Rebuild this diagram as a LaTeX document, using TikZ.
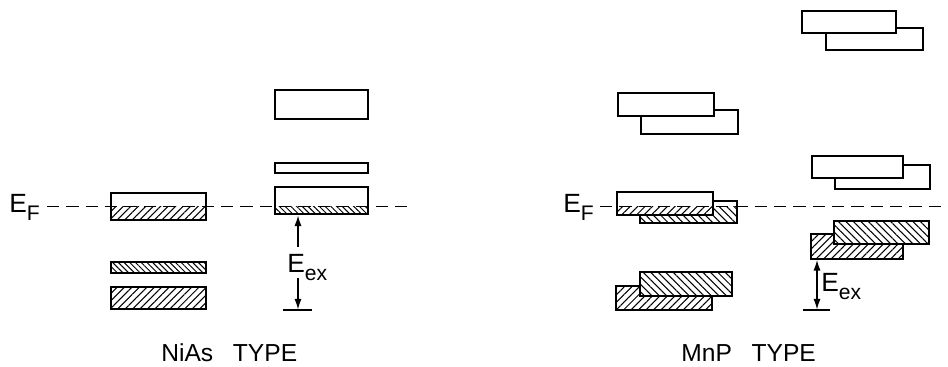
\documentclass[tikz,border=0pt]{standalone}
\usepackage{fontspec}
\setmainfont{Liberation Sans}
\usetikzlibrary{patterns.meta,arrows.meta}
\newcommand{\lvlsub}[1]{\raisebox{-4.5pt}{\fontsize{12pt}{12pt}\selectfont #1}}
\tikzset{
  band/.style={draw,line width=1pt,fill=white},
  hatchup/.style={pattern={Lines[angle=45,distance=3pt,line width=0.6pt]}},
  hatchdown/.style={pattern={Lines[angle=-45,distance=3pt,line width=0.6pt]}},
  hatchfine/.style={pattern={Lines[angle=-45,distance=2.3pt,line width=0.55pt]}},
  efline/.style={line width=0.7pt,dash pattern=on 7pt off 4pt},
  levelname/.style={font=\fontsize{15pt}{16pt}\selectfont,inner sep=0pt,anchor=base west},
  typename/.style={font=\fontsize{14pt}{16pt}\selectfont,inner sep=0pt,anchor=base west},
  gap/.style={line width=0.7pt,-{Latex[length=6pt,width=4pt]}},
}
\begin{document}
\begin{tikzpicture}[x=0.02cm,y=-0.02cm]
  \useasboundingbox (0,0) rectangle (948,367);
  % NiAs type
  \draw[band] (275,90) rectangle (368,119);
  \draw[band] (275,163) rectangle (368,173);
  \draw[band] (275,187) rectangle (368,214);
  \fill[hatchfine] (275,206.5) rectangle (368,214);
  \draw[band] (111,193) rectangle (206,220);
  \fill[hatchup] (111,206.5) rectangle (206,220);
  \draw[band] (111,262) rectangle (206,273);
  \fill[hatchfine] (111,262) rectangle (206,273);
  \draw[band] (111,287) rectangle (206,309);
  \fill[hatchup] (111,287) rectangle (206,309);
  \node[levelname] (efl) at (9,213) {E\lvlsub{F}};
  \coordinate (efl-a) at (47,206.5);
  \coordinate (efl-b) at (410,206.5);
  \draw[efline] (efl-a) -- (efl-b);
  \node[levelname] (eexl) at (287,273) {E\lvlsub{ex}};
  \coordinate (eexl-top) at (298,215.5);
  \coordinate (eexl-up) at (298,247);
  \coordinate (eexl-down) at (298,278);
  \coordinate (eexl-bot) at (298,309.5);
  \draw[gap] (eexl-up) -- (eexl-top);
  \draw[gap] (eexl-down) -- (eexl-bot);
  \coordinate (basel-a) at (283,310);
  \coordinate (basel-b) at (312,310);
  \draw[line width=1pt] (basel-a) -- (basel-b);
  \node[typename] (niastype) at (161,362) {NiAs\hspace{0.8em}TYPE};
  % MnP type
  \draw[band] (826,28) rectangle (923,50);
  \draw[band] (802,11) rectangle (896,33);
  \draw[band] (641,110) rectangle (738,134);
  \draw[band] (618,93) rectangle (714,116);
  \draw[band] (835,165) rectangle (930,189);
  \draw[band] (812,156) rectangle (903,178);
  \draw[band] (640,201) rectangle (737,223);
  \fill[hatchdown] (640,206.5) rectangle (737,223);
  \draw[band] (617,192) rectangle (713,215);
  \fill[hatchup] (617,206.5) rectangle (713,215);
  \draw[band] (811,234) rectangle (903,259);
  \fill[hatchup] (811,234) rectangle (903,259);
  \draw[band] (834,221) rectangle (929,244);
  \fill[hatchdown] (834,221) rectangle (929,244);
  \draw[band] (616,286) rectangle (712,310);
  \fill[hatchup] (616,286) rectangle (712,310);
  \draw[band] (640,272) rectangle (732,296);
  \fill[hatchdown] (640,272) rectangle (732,296);
  \node[levelname] (efr) at (563,213) {E\lvlsub{F}};
  \coordinate (efr-a) at (600,206.5);
  \coordinate (efr-b) at (948,206.5);
  \draw[efline] (efr-a) -- (efr-b);
  \node[levelname] (eexr) at (821,292) {E\lvlsub{ex}};
  \coordinate (eexr-top) at (817,260);
  \coordinate (eexr-bot) at (817,309.5);
  \draw[gap,{Latex[length=6pt,width=4pt]}-{Latex[length=6pt,width=4pt]}] (eexr-top) -- (eexr-bot);
  \coordinate (baser-a) at (803,310);
  \coordinate (baser-b) at (830,310);
  \draw[line width=1pt] (baser-a) -- (baser-b);
  \node[typename] (mnptype) at (681,362) {MnP\hspace{0.8em}TYPE};
\end{tikzpicture}
\end{document}
